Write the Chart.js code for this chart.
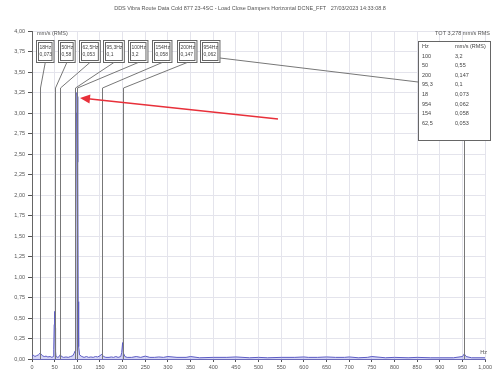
<!DOCTYPE html>
<html>
<head>
<meta charset="utf-8">
<script src="https://cdn.jsdelivr.net/npm/chart.js@4.4.0/dist/chart.umd.min.js"></script>
<style>
  html, body { margin: 0; padding: 0; background: #fff; }
  #wrap { width: 494px; height: 374px; }
</style>
</head>
<body>
<div id="wrap"><canvas id="fftChart" width="494" height="374"></canvas></div>
<script>
// FFT spectrum - horizontal velocity

const chartTitle = 'DDS Vibra Route Data Cold 877 23-4SC - Load Close Dampers Horizontal DCNE_FFT   27/03/2023 14:33:08.8';
const totalLabel = 'TOT 3,278 mm/s RMS';

// spectrum (Hz / mm/s RMS)
const freq = [0, 3, 6, 10, 14, 16, 18, 20, 23, 27, 31, 35, 40, 44, 47, 48, 49, 50, 51, 52,
  53, 57, 60, 62.5, 65, 70, 75, 80, 85, 90, 93, 95.3, 96, 97, 98, 99, 100, 101, 102, 103, 105,
  110, 115, 120, 125, 130, 135, 140, 145, 150, 154, 158, 163, 170, 175, 180, 185, 190, 196, 198, 200,
  202, 205, 210, 220, 230, 240, 250, 260, 270, 280, 290, 300, 320, 340, 350, 370, 400, 430, 450, 480,
  500, 520, 550, 580, 600, 610, 630, 650, 670, 690, 700, 720, 740, 750, 780, 800, 830, 850, 880, 900,
  930, 950, 954, 958, 970, 1000];
const amp = [0.03, 0.05, 0.03, 0.04, 0.05, 0.06, 0.073, 0.06, 0.04, 0.03, 0.035, 0.025, 0.03, 0.02, 0.03, 0.12, 0.42, 0.58, 0.38, 0.1,
  0.03, 0.02, 0.03, 0.053, 0.03, 0.02, 0.025, 0.02, 0.03, 0.04, 0.07, 0.1, 0.35, 1.6, 3.0, 3.25, 3.2, 2.4, 0.7, 0.15, 0.05,
  0.03, 0.02, 0.03, 0.02, 0.025, 0.02, 0.03, 0.025, 0.04, 0.058, 0.03, 0.02, 0.02, 0.025, 0.02, 0.03, 0.02, 0.03, 0.08, 0.2,
  0.07, 0.03, 0.02, 0.02, 0.03, 0.02, 0.035, 0.02, 0.02, 0.025, 0.02, 0.03, 0.02, 0.02, 0.03, 0.015, 0.02, 0.02, 0.025, 0.015,
  0.02, 0.015, 0.02, 0.02, 0.025, 0.02, 0.02, 0.025, 0.02, 0.02, 0.025, 0.015, 0.02, 0.03, 0.015, 0.02, 0.015, 0.02, 0.015, 0.015,
  0.015, 0.03, 0.062, 0.03, 0.015, 0.015];

// cursor markers
const markerHz = [18, 50, 62.5, 95.3, 100, 154, 200, 954];
const markerHzText = ['18Hz', '50Hz', '62,5Hz', '95,3Hz', '100Hz', '154Hz', '200Hz', '954Hz'];
const markerValText = ['0,073', '0,58', '0,053', '0,1', '3,2', '0,058', '0,147', '0,062'];

// peak table (sorted by amplitude)
const tableHz = ['100', '50', '200', '95,3', '18', '954', '154', '62,5'];
const tableVal = ['3,2', '0,55', '0,147', '0,1', '0,073', '0,062', '0,058', '0,053'];

// axis ticks
const yTicks = [0, 0.25, 0.5, 0.75, 1, 1.25, 1.5, 1.75, 2, 2.25, 2.5, 2.75, 3, 3.25, 3.5, 3.75, 4];

const FONT = '"Liberation Sans", Arial, sans-serif';
const boxLeft = [36, 58, 79, 103, 128, 152, 177, 200];

const points = freq.map((f, i) => ({ x: f, y: amp[i] }));

const overlayPlugin = {
    id: 'overlay',
    afterDatasetsDraw(chart) {
        const ctx = chart.ctx;
        const xs = chart.scales.x;
        const ys = chart.scales.y;
        const bottom = ys.getPixelForValue(0);
        ctx.save();

        // title and units
        ctx.fillStyle = '#555';
        ctx.font = '5.5px ' + FONT;
        ctx.textAlign = 'center';
        ctx.textBaseline = 'middle';
        ctx.fillText(chartTitle, 250, 8);
        ctx.textAlign = 'left';
        ctx.fillText('mm/s (RMS)', 37, 33);
        ctx.textAlign = 'right';
        ctx.fillText(totalLabel, 490, 33);
        ctx.fillText('Hz', 487, 352);

        // marker lines, boxes and connectors
        const boxTop = 40, boxBot = 62, bendY = 88;
        ctx.lineWidth = 1;
        markerHz.forEach((hz, i) => {
            const px = Math.round(xs.getPixelForValue(hz)) + 0.5;
            ctx.strokeStyle = '#777';
            ctx.beginPath();
            ctx.moveTo(px, i === markerHz.length - 1 ? 140 : bendY);
            ctx.lineTo(px, bottom);
            ctx.stroke();

            ctx.font = '5px ' + FONT;
            const w = Math.max(ctx.measureText(markerHzText[i]).width, ctx.measureText(markerValText[i]).width) + 5;
            const bx = boxLeft[i] + 0.5;
            ctx.fillStyle = '#fff';
            ctx.fillRect(bx, boxTop + 0.5, w, boxBot - boxTop);
            ctx.strokeStyle = '#666';
            ctx.strokeRect(bx, boxTop + 0.5, w, boxBot - boxTop);
            ctx.strokeRect(bx + 2, boxTop + 2.5, w - 4, boxBot - boxTop - 4);
            ctx.fillStyle = '#444';
            ctx.textAlign = 'left';
            ctx.fillText(markerHzText[i], bx + 3, boxTop + 7.5);
            ctx.fillText(markerValText[i], bx + 3, boxTop + 15);

            // connector from box to marker
            ctx.strokeStyle = '#777';
            ctx.beginPath();
            if (i === markerHz.length - 1) {
                ctx.moveTo(bx + w, boxBot - 4);
                ctx.lineTo(418, 82);
            } else {
                ctx.moveTo(bx + w / 2, boxBot + 0.5);
                ctx.lineTo(px, bendY);
            }
            ctx.stroke();
        });

        // peak table
        ctx.fillStyle = '#fff';
        ctx.fillRect(418.5, 41.5, 72, 99);
        ctx.strokeStyle = '#666';
        ctx.strokeRect(418.5, 41.5, 72, 99);
        ctx.fillStyle = '#444';
        ctx.textAlign = 'left';
        ctx.font = '5.5px ' + FONT;
        ctx.fillText('Hz', 422, 46);
        ctx.fillText('mm/s (RMS)', 455, 46);
        tableHz.forEach((hz, i) => {
            const ry = 56 + i * 9.6;
            ctx.fillText(hz, 422, ry);
            ctx.fillText(tableVal[i], 455, ry);
        });

        // red arrow pointing at the 100 Hz peak
        const tipX = 80, tipY = 98, tailX = 278, tailY = 119;
        const ang = Math.atan2(tipY - tailY, tipX - tailX);
        ctx.strokeStyle = '#e8303a';
        ctx.fillStyle = '#e8303a';
        ctx.lineWidth = 1.5;
        ctx.beginPath();
        ctx.moveTo(tailX, tailY);
        ctx.lineTo(tipX - 8 * Math.cos(ang), tipY - 8 * Math.sin(ang));
        ctx.stroke();
        ctx.beginPath();
        ctx.moveTo(tipX, tipY);
        ctx.lineTo(tipX - 10 * Math.cos(ang) - 4.5 * Math.sin(ang), tipY - 10 * Math.sin(ang) + 4.5 * Math.cos(ang));
        ctx.lineTo(tipX - 10 * Math.cos(ang) + 4.5 * Math.sin(ang), tipY - 10 * Math.sin(ang) - 4.5 * Math.cos(ang));
        ctx.closePath();
        ctx.fill();

        ctx.restore();
    }
};

const ctx = document.getElementById('fftChart').getContext('2d');
const myChart = new Chart(ctx, {
    type: 'line',
    data: {
        datasets: [{
            data: points,
            borderColor: '#5b5bc4',
            backgroundColor: 'rgba(120, 120, 225, 0.3)',
            fill: 'origin',
            borderWidth: 1,
            pointRadius: 0,
            tension: 0
        }]
    },
    options: {
        responsive: false,
        animation: false,
        layout: { padding: { top: 31, right: 6, left: 0, bottom: 0 } },
        plugins: {
            legend: { display: false },
            title: { display: false },
            tooltip: { enabled: false }
        },
        scales: {
            x: {
                type: 'linear',
                min: 0,
                max: 1000,
                afterFit: function(scale) { scale.height = 15; },
                ticks: {
                    stepSize: 50,
                    color: '#555',
                    font: { size: 5.5, family: FONT },
                    maxRotation: 0,
                    autoSkip: false,
                    padding: 2
                },
                grid: { color: '#e4e4ec', tickLength: 3, tickColor: '#555' },
                border: { color: '#6a6ab8' }
            },
            y: {
                min: 0,
                max: 4,
                afterFit: function(scale) { scale.width = 32; },
                afterBuildTicks: function(scale) {
                    scale.ticks = yTicks.map(v => ({ value: v }));
                },
                ticks: {
                    color: '#555',
                    font: { size: 5.5, family: FONT },
                    padding: 3,
                    callback: function(value) {
                        return value.toFixed(2).replace('.', ',');
                    }
                },
                grid: { color: '#e4e4ec', tickLength: 4, tickColor: '#555' },
                border: { color: '#666' }
            }
        }
    },
    plugins: [overlayPlugin]
});
</script>
</body>
</html>
